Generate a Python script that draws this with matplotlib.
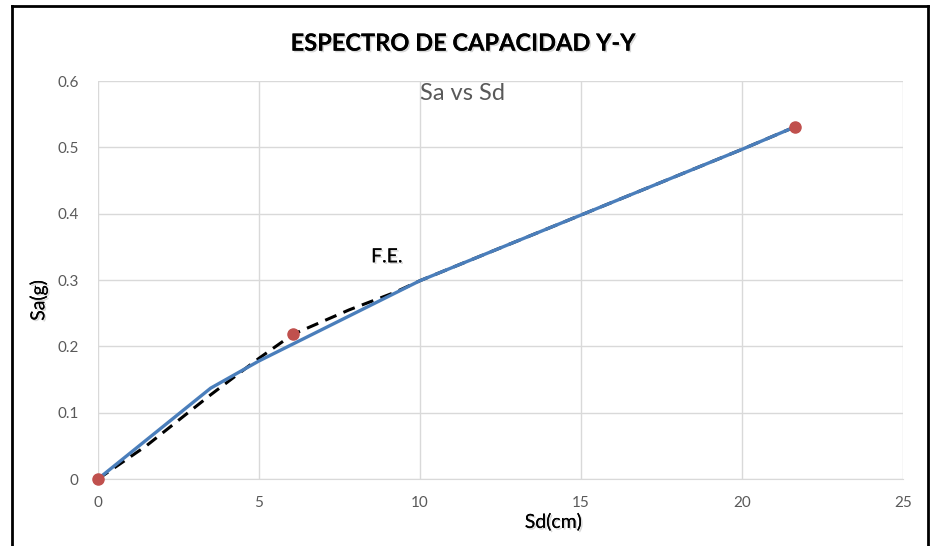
import matplotlib.pyplot as plt
import matplotlib.patheffects as pe
from matplotlib.lines import Line2D

# capacity curve (blue)
sd_curve = [0, 3.5, 5.0, 10.0, 15.0, 20.0, 21.65]
sa_curve = [0, 0.137, 0.178, 0.299, 0.398, 0.497, 0.531]

# bilinear fit, dashed
sd_fe = [0, 1.5, 3.5, 5.0, 6.05, 7.8, 9.2, 10.0, 15.0, 20.0, 21.65]
sa_fe = [0, 0.05, 0.127, 0.182, 0.218, 0.255, 0.281, 0.299, 0.398, 0.497, 0.531]

# marked points
sd_pts = [0, 6.05, 21.65]
sa_pts = [0, 0.218, 0.531]

x_ticks = [0, 5, 10, 15, 20, 25]
y_ticks = [0, 0.1, 0.2, 0.3, 0.4, 0.5, 0.6]

plt.rcParams['font.family'] = ['Lato', 'DejaVu Sans']

fig = plt.figure(figsize=(9.35, 5.46), dpi=100)
ax = fig.add_axes([0.1048, 0.1227, 0.861, 0.7289])

ax.plot(sd_fe, sa_fe, color='black', lw=2.2, ls=(0, (4, 2.5)), zorder=2)
ax.plot(sd_curve, sa_curve, color='#4a7ebb', lw=2.4, zorder=3)
ax.plot(sd_pts, sa_pts, 'o', color='#c0504d', ms=8, zorder=4, clip_on=False)

ax.set_xlim(0, 25)
ax.set_ylim(0, 0.6)
ax.set_xticks(x_ticks)
ax.set_yticks(y_ticks)
ax.set_xticklabels([str(v) for v in x_ticks])
ax.set_yticklabels(['0'] + [f'{v:.1f}' for v in y_ticks[1:]])
ax.tick_params(length=0, labelsize=11, labelcolor='#595959', pad=12)
ax.tick_params(axis='y', pad=14)
ax.grid(True, color='#d9d9d9', lw=1)
ax.set_axisbelow(True)
for s in ['top', 'right', 'left']:
    ax.spines[s].set_visible(False)
ax.spines['bottom'].set_color('#d9d9d9')

shadow = [pe.withSimplePatchShadow(offset=(1.2, -1.2), alpha=0.15), pe.Normal()]

ax.text(8.97, 0.335, 'F.E.', ha='center', va='center', fontsize=14,
        color='black', path_effects=shadow)

fig.text(0.495, 0.921, 'ESPECTRO DE CAPACIDAD Y-Y', ha='center', va='center',
         fontsize=17, fontweight='bold', path_effects=shadow)
fig.text(0.495, 0.829, 'Sa vs Sd', ha='center', va='center', fontsize=17,
         color='#595959')
fig.text(0.592, 0.044, 'Sd(cm)', ha='center', va='center', fontsize=14,
         path_effects=shadow)
fig.text(0.041, 0.45, 'Sa(g)', ha='center', va='center', fontsize=14,
         rotation=90, path_effects=shadow)

# frame around the chart
fig.add_artist(Line2D([12/935, 12/935], [0, 1 - 6/546], color='black', lw=2,
                      transform=fig.transFigure))
fig.add_artist(Line2D([12/935, 928/935], [1 - 6/546, 1 - 6/546], color='black',
                      lw=2, transform=fig.transFigure))
fig.add_artist(Line2D([928/935, 928/935], [0, 1 - 6/546], color='black', lw=2,
                      transform=fig.transFigure))

fig.savefig('out.png', dpi=100)
